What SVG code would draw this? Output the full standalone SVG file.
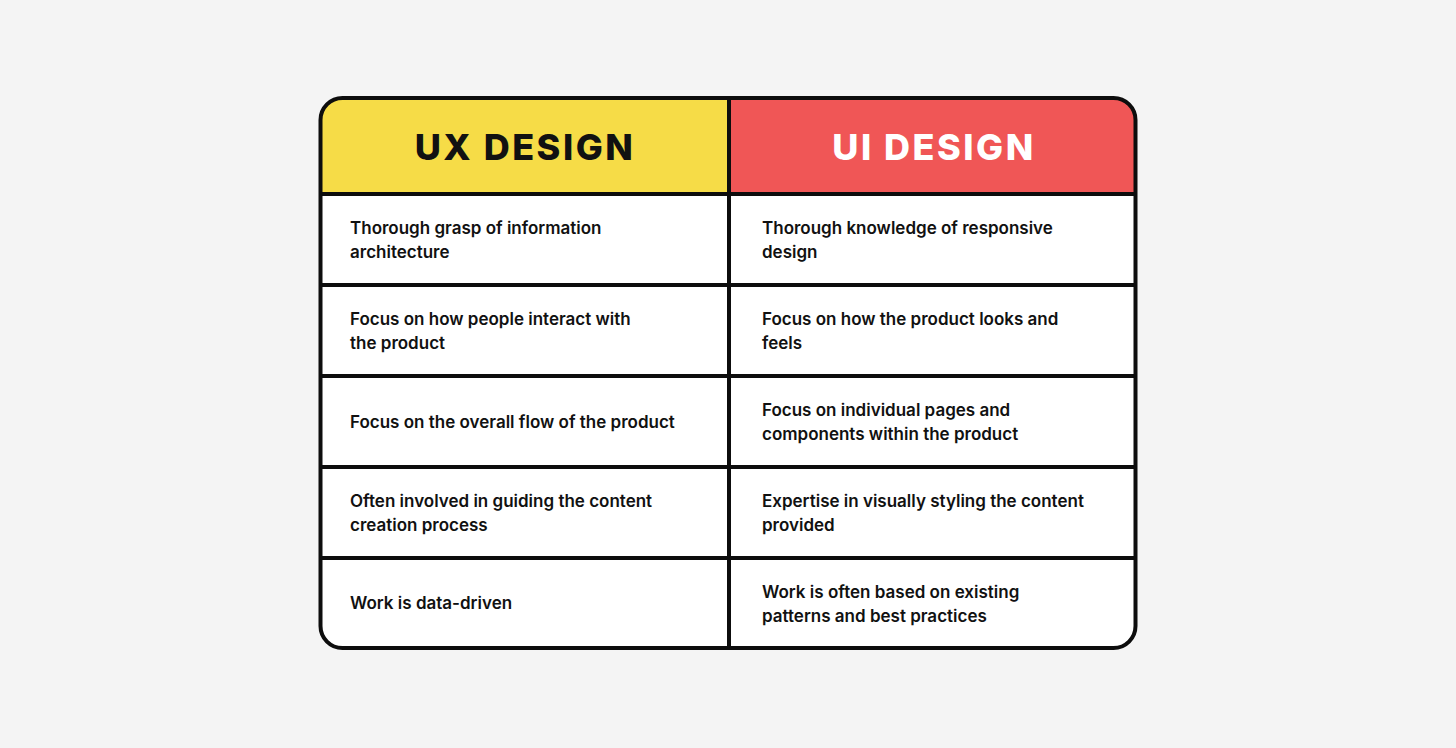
<svg xmlns="http://www.w3.org/2000/svg" width="1456" height="748" viewBox="0 0 1456 748">
<style>
.t{font-family:Inter,"Liberation Sans",sans-serif;font-weight:600;font-size:17px;fill:#111}
.h{font-family:Inter,"Liberation Sans",sans-serif;font-weight:800;font-size:36px;letter-spacing:2.5px;text-anchor:middle}
.l{stroke:#0d0d0d;stroke-width:4;fill:none}
</style>
<rect width="1456" height="748" fill="#f4f4f4"/>
<defs><clipPath id="c"><rect x="320.5" y="98" width="815" height="550" rx="22"/></clipPath></defs>
<g clip-path="url(#c)">
<rect x="320" y="98" width="816" height="550" fill="#fff"/>
<rect x="320" y="98" width="409" height="96" fill="#f6dc47"/>
<rect x="729" y="98" width="407" height="96" fill="#f05656"/>
</g>
<g id="lines">
<rect class="l" x="320.5" y="98" width="815" height="550" rx="22"/>
<line class="l" x1="729" y1="98" x2="729" y2="648"/>
<line class="l" x1="320" y1="194" x2="1136" y2="194"/>
<line class="l" x1="320" y1="285" x2="1136" y2="285"/>
<line class="l" x1="320" y1="376" x2="1136" y2="376"/>
<line class="l" x1="320" y1="467" x2="1136" y2="467"/>
<line class="l" x1="320" y1="558" x2="1136" y2="558"/>
</g>
<g id="headers">
<text class="h" x="525" y="160" fill="#111">UX DESIGN</text>
<text class="h" x="934" y="160" fill="#fff">UI DESIGN</text>
</g>
<g id="ux">
<text class="t" x="350" y="234">Thorough grasp of information</text>
<text class="t" x="350" y="258">architecture</text>
<text class="t" x="350" y="325">Focus on how people interact with</text>
<text class="t" x="350" y="349">the product</text>
<text class="t" x="350" y="428">Focus on the overall flow of the product</text>
<text class="t" x="350" y="507">Often involved in guiding the content</text>
<text class="t" x="350" y="531">creation process</text>
<text class="t" x="350" y="609">Work is data-driven</text>
</g>
<g id="ui">
<text class="t" x="762" y="234">Thorough knowledge of responsive</text>
<text class="t" x="762" y="258">design</text>
<text class="t" x="762" y="325">Focus on how the product looks and</text>
<text class="t" x="762" y="349">feels</text>
<text class="t" x="762" y="416">Focus on individual pages and</text>
<text class="t" x="762" y="440">components within the product</text>
<text class="t" x="762" y="507">Expertise in visually styling the content</text>
<text class="t" x="762" y="531">provided</text>
<text class="t" x="762" y="598">Work is often based on existing</text>
<text class="t" x="762" y="622">patterns and best practices</text>
</g>
</svg>
